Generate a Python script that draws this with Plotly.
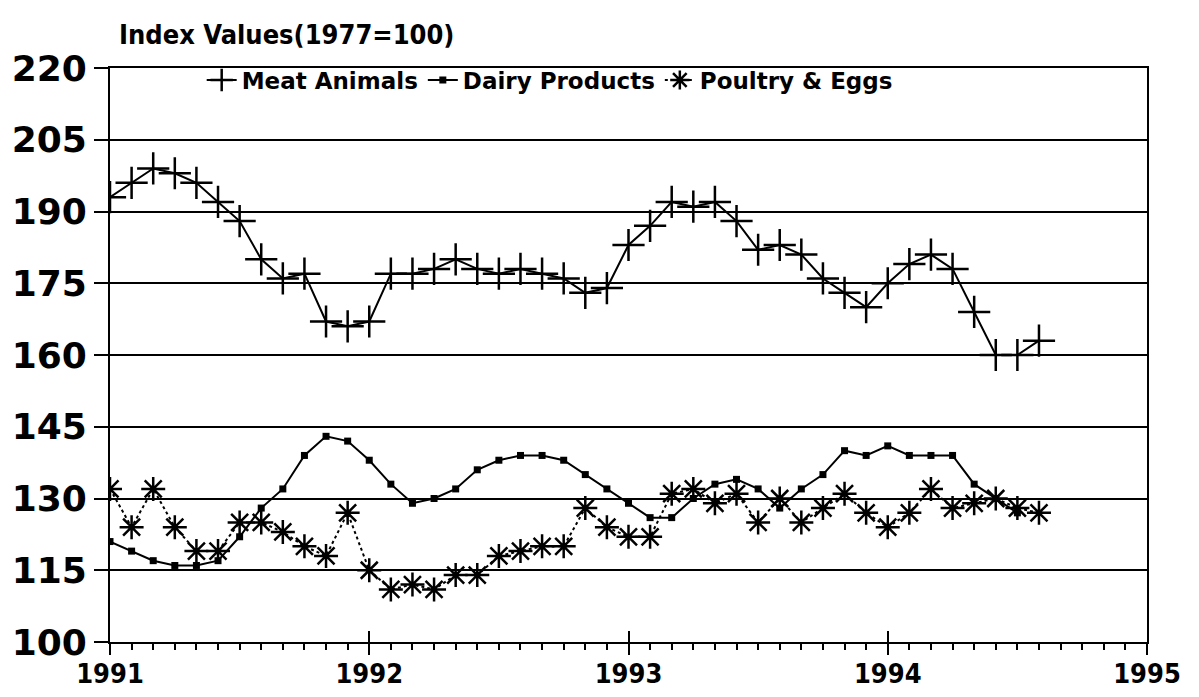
import plotly.graph_objects as go

years_start = 1991
months = list(range(44))
x_vals = [years_start + m / 12 for m in months]

meat_animals = [193, 196, 199, 198, 196, 192, 188, 180, 176, 177,
                167, 166, 167, 177, 177, 178, 180, 178, 177, 178,
                177, 176, 173, 174, 183, 187, 192, 191, 192, 188,
                182, 183, 181, 176, 173, 170, 175, 179, 181, 178,
                169, 160, 160, 163]
dairy_products = [121, 119, 117, 116, 116, 117, 122, 128, 132, 139,
                  143, 142, 138, 133, 129, 130, 132, 136, 138, 139,
                  139, 138, 135, 132, 129, 126, 126, 130, 133, 134,
                  132, 128, 132, 135, 140, 139, 141, 139, 139, 139,
                  133, 130, 127, None]
poultry_eggs = [132, 124, 132, 124, 119, 119, 125, 125, 123, 120,
                118, 127, 115, 111, 112, 111, 114, 114, 118, 119,
                120, 120, 128, 124, 122, 122, 131, 132, 129, 131,
                125, 130, 125, 128, 131, 127, 124, 127, 132, 128,
                129, 130, 128, 127]

year_ticks = [1991, 1992, 1993, 1994, 1995]
y_ticks = [100, 115, 130, 145, 160, 175, 190, 205, 220]

WIDE = "DejaVu Sans"
NARROW = "DejaVu Sans Condensed, Liberation Sans Narrow, Liberation Sans"

# the page body has an 8px margin, so the figure is sized to fit the window
W, H = 1191, 689

fig = go.Figure()
fig.add_trace(go.Scatter(
    x=x_vals, y=meat_animals, name="Meat Animals", mode="lines+markers",
    line=dict(color="black", width=2),
    marker=dict(symbol="cross-thin", size=23, line=dict(color="black", width=2.5)),
))
fig.add_trace(go.Scatter(
    x=x_vals, y=dairy_products, name="Dairy Products", mode="lines+markers",
    line=dict(color="black", width=2),
    marker=dict(symbol="square", size=7, color="black"),
))
fig.add_trace(go.Scatter(
    x=x_vals, y=poultry_eggs, name="Poultry & Eggs", mode="lines+markers",
    line=dict(color="black", width=2, dash="dot"),
    marker=dict(symbol="asterisk-open", size=20, line=dict(color="black", width=2.5)),
))
# invisible trace to activate the overlay axis for crossing major ticks
fig.add_trace(go.Scatter(x=[1991, 1995], y=[None, None], xaxis="x2",
                         showlegend=False, hoverinfo="skip"))

fig.update_layout(
    width=W, height=H,
    paper_bgcolor="white", plot_bgcolor="white",
    margin=dict(l=102, r=52, t=60, b=55, autoexpand=False),
    font=dict(family=WIDE, color="black", weight="bold"),
    title=dict(text="Index Values(1977=100)", xref="container", yref="container",
               x=111 / W, xanchor="left", y=1 - 27 / H, yanchor="middle",
               font=dict(family=NARROW, size=27, color="black", weight="bold")),
    legend=dict(orientation="h", x=0.424, xanchor="center", y=0.979, yanchor="middle",
                bgcolor="rgba(255,255,255,0)", font=dict(size=23, family=WIDE, weight="bold"),
                itemwidth=30, tracegroupgap=0),
    xaxis=dict(range=[1991, 1995], tickvals=year_ticks,
               ticktext=[str(y) for y in year_ticks],
               ticks="outside", ticklen=11, tickwidth=2, tickcolor="black",
               showline=True, linecolor="black", linewidth=2, mirror=True,
               showgrid=False, zeroline=False, automargin=False,
               ticklabelstandoff=-4,
               tickfont=dict(size=27, family=NARROW, weight="bold"),
               minor=dict(dtick=1 / 12, tick0=1991, ticks="outside", ticklen=6,
                          tickwidth=1.5, tickcolor="black", showgrid=False)),
    xaxis2=dict(range=[1991, 1995], overlaying="x", tickvals=year_ticks,
                showticklabels=False, ticks="inside", ticklen=11, tickwidth=2,
                tickcolor="black", showgrid=False, zeroline=False, side="bottom",
                anchor="y", automargin=False),
    yaxis=dict(range=[100, 220], tickvals=y_ticks,
               ticks="outside", ticklen=14, tickwidth=2, tickcolor="black",
               showline=True, linecolor="black", linewidth=2, mirror=True,
               showgrid=True, gridcolor="black", gridwidth=2, zeroline=False,
               automargin=False,
               tickfont=dict(size=36, family=WIDE, weight="bold")),
)

fig.write_html("out.html")
